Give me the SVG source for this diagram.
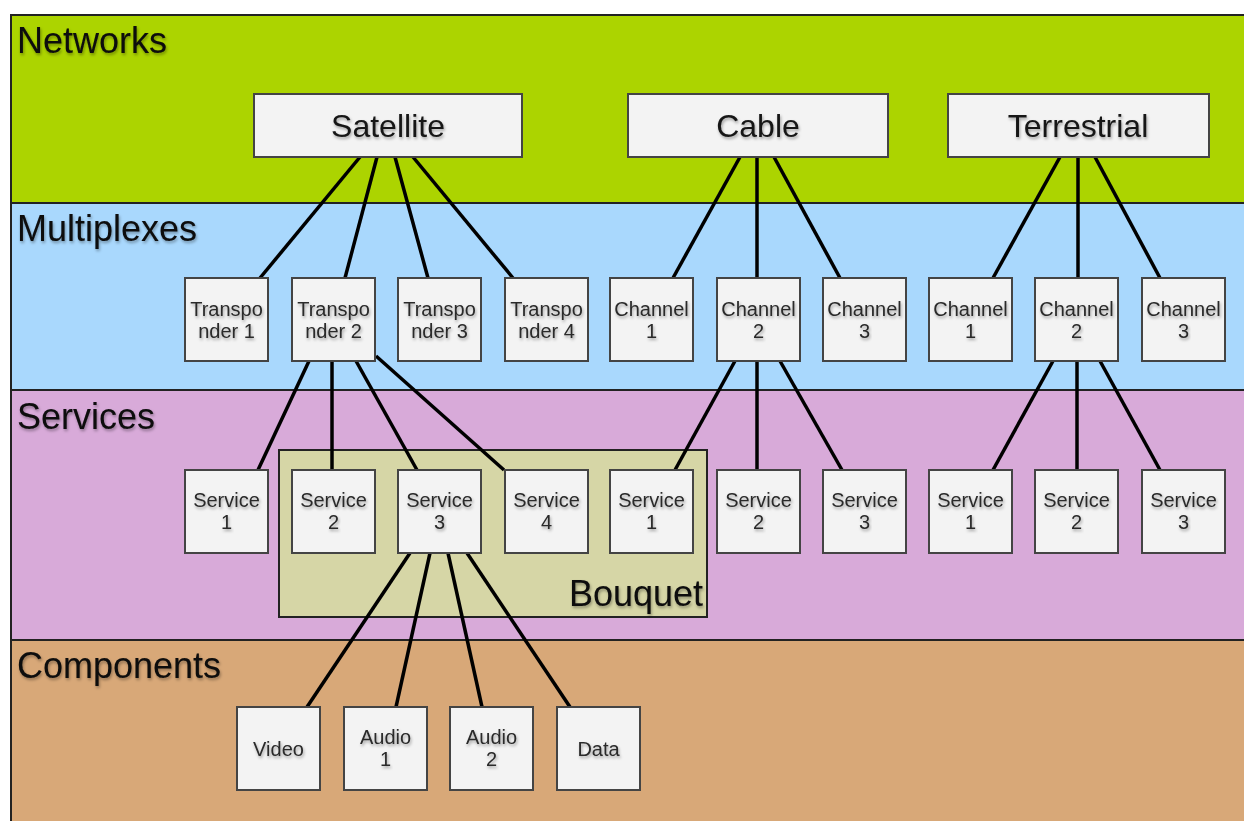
<svg xmlns="http://www.w3.org/2000/svg" width="1244" height="821" viewBox="0 0 1244 821">
  <defs>
    <filter id="ts" x="-10%" y="-30%" width="120%" height="160%">
      <feDropShadow dx="1" dy="2" stdDeviation="1.5" flood-color="#000" flood-opacity="0.35"/>
    </filter>
  </defs>
  <style>
    .band { stroke: #222; stroke-width: 2; }
    .bandlabel { font-family: "Liberation Sans", Arial, sans-serif; font-size: 36px; fill: #0a0a0a; filter: url(#ts); }
    .big rect, .small rect { fill: #f3f3f3; stroke: #444; stroke-width: 2; }
    .big text { font-family: "Liberation Sans", Arial, sans-serif; font-size: 32px; fill: #151515; text-anchor: middle; filter: url(#ts); }
    .small text { font-family: "Liberation Sans", Arial, sans-serif; font-size: 20px; fill: #2a2a2a; text-anchor: middle; filter: url(#ts); }
    .conn line { stroke: #000; stroke-width: 3.5; stroke-linecap: butt; }
  </style>
  <rect x="0" y="0" width="1244" height="821" fill="#ffffff"/>

  <!-- Bands -->
  <g id="bands">
    <rect class="band" x="11" y="15" width="1250" height="188" fill="#acd400"/>
    <rect class="band" x="11" y="203" width="1250" height="187" fill="#a9d8fd"/>
    <rect class="band" x="11" y="390" width="1250" height="250" fill="#d8aad9"/>
    <rect class="band" x="11" y="640" width="1250" height="200" fill="#d8a878"/>
    <text class="bandlabel" x="17" y="53">Networks</text>
    <text class="bandlabel" x="17" y="241">Multiplexes</text>
    <text class="bandlabel" x="17" y="429">Services</text>
    <text class="bandlabel" x="17" y="678">Components</text>
  </g>

  <g id="bouquet">
    <rect x="279" y="450" width="428" height="167" fill="#d6d6a6" stroke="#222" stroke-width="2"/>
    <text class="bandlabel" x="703" y="606" text-anchor="end">Bouquet</text>
  </g>

  <!-- Connectors -->
  <g id="connectors" class="conn">
    <line x1="360" y1="157" x2="260" y2="278"/>
    <line x1="377" y1="157" x2="345" y2="278"/>
    <line x1="395" y1="157" x2="428" y2="278"/>
    <line x1="413" y1="157" x2="513" y2="278"/>
    <line x1="740" y1="157" x2="673" y2="278"/>
    <line x1="757" y1="157" x2="757" y2="278"/>
    <line x1="774" y1="157" x2="840" y2="278"/>
    <line x1="1060" y1="157" x2="993" y2="278"/>
    <line x1="1078" y1="157" x2="1078" y2="278"/>
    <line x1="1095" y1="157" x2="1160" y2="278"/>
    <line x1="309" y1="361" x2="258" y2="470"/>
    <line x1="332" y1="361" x2="332" y2="470"/>
    <line x1="356" y1="361" x2="417" y2="470"/>
    <line x1="376" y1="356" x2="504" y2="470"/>
    <line x1="735" y1="361" x2="675" y2="470"/>
    <line x1="757" y1="361" x2="757" y2="470"/>
    <line x1="780" y1="361" x2="842" y2="470"/>
    <line x1="1053" y1="361" x2="993" y2="470"/>
    <line x1="1077" y1="361" x2="1077" y2="470"/>
    <line x1="1100" y1="361" x2="1160" y2="470"/>
    <line x1="410" y1="553" x2="307" y2="707"/>
    <line x1="430" y1="553" x2="396" y2="707"/>
    <line x1="448" y1="553" x2="482" y2="707"/>
    <line x1="467" y1="553" x2="570" y2="707"/>
  </g>

  <!-- Network nodes -->
  <g id="satellite" class="big"><rect x="254" y="94" width="268" height="63"/><text x="388" y="137">Satellite</text></g>
  <g id="cable" class="big"><rect x="628" y="94" width="260" height="63"/><text x="758" y="137">Cable</text></g>
  <g id="terrestrial" class="big"><rect x="948" y="94" width="261" height="63"/><text x="1078" y="137">Terrestrial</text></g>

  <!-- Multiplex nodes -->
  <g id="transponder1" class="small"><rect x="185" y="278" width="83" height="83"/><text x="226.5" y="316">Transpo</text><text x="226.5" y="338">nder 1</text></g>
  <g id="transponder2" class="small"><rect x="292" y="278" width="83" height="83"/><text x="333.5" y="316">Transpo</text><text x="333.5" y="338">nder 2</text></g>
  <g id="transponder3" class="small"><rect x="398" y="278" width="83" height="83"/><text x="439.5" y="316">Transpo</text><text x="439.5" y="338">nder 3</text></g>
  <g id="transponder4" class="small"><rect x="505" y="278" width="83" height="83"/><text x="546.5" y="316">Transpo</text><text x="546.5" y="338">nder 4</text></g>
  <g id="cable-channel1" class="small"><rect x="610" y="278" width="83" height="83"/><text x="651.5" y="316">Channel</text><text x="651.5" y="338">1</text></g>
  <g id="cable-channel2" class="small"><rect x="717" y="278" width="83" height="83"/><text x="758.5" y="316">Channel</text><text x="758.5" y="338">2</text></g>
  <g id="cable-channel3" class="small"><rect x="823" y="278" width="83" height="83"/><text x="864.5" y="316">Channel</text><text x="864.5" y="338">3</text></g>
  <g id="terr-channel1" class="small"><rect x="929" y="278" width="83" height="83"/><text x="970.5" y="316">Channel</text><text x="970.5" y="338">1</text></g>
  <g id="terr-channel2" class="small"><rect x="1035" y="278" width="83" height="83"/><text x="1076.5" y="316">Channel</text><text x="1076.5" y="338">2</text></g>
  <g id="terr-channel3" class="small"><rect x="1142" y="278" width="83" height="83"/><text x="1183.5" y="316">Channel</text><text x="1183.5" y="338">3</text></g>

  <!-- Service nodes -->
  <g id="sat-service1" class="small"><rect x="185" y="470" width="83" height="83"/><text x="226.5" y="507">Service</text><text x="226.5" y="529">1</text></g>
  <g id="sat-service2" class="small"><rect x="292" y="470" width="83" height="83"/><text x="333.5" y="507">Service</text><text x="333.5" y="529">2</text></g>
  <g id="sat-service3" class="small"><rect x="398" y="470" width="83" height="83"/><text x="439.5" y="507">Service</text><text x="439.5" y="529">3</text></g>
  <g id="sat-service4" class="small"><rect x="505" y="470" width="83" height="83"/><text x="546.5" y="507">Service</text><text x="546.5" y="529">4</text></g>
  <g id="cable-service1" class="small"><rect x="610" y="470" width="83" height="83"/><text x="651.5" y="507">Service</text><text x="651.5" y="529">1</text></g>
  <g id="cable-service2" class="small"><rect x="717" y="470" width="83" height="83"/><text x="758.5" y="507">Service</text><text x="758.5" y="529">2</text></g>
  <g id="cable-service3" class="small"><rect x="823" y="470" width="83" height="83"/><text x="864.5" y="507">Service</text><text x="864.5" y="529">3</text></g>
  <g id="terr-service1" class="small"><rect x="929" y="470" width="83" height="83"/><text x="970.5" y="507">Service</text><text x="970.5" y="529">1</text></g>
  <g id="terr-service2" class="small"><rect x="1035" y="470" width="83" height="83"/><text x="1076.5" y="507">Service</text><text x="1076.5" y="529">2</text></g>
  <g id="terr-service3" class="small"><rect x="1142" y="470" width="83" height="83"/><text x="1183.5" y="507">Service</text><text x="1183.5" y="529">3</text></g>

  <!-- Component nodes -->
  <g id="video" class="small"><rect x="237" y="707" width="83" height="83"/><text x="278.5" y="756">Video</text></g>
  <g id="audio1" class="small"><rect x="344" y="707" width="83" height="83"/><text x="385.5" y="744">Audio</text><text x="385.5" y="766">1</text></g>
  <g id="audio2" class="small"><rect x="450" y="707" width="83" height="83"/><text x="491.5" y="744">Audio</text><text x="491.5" y="766">2</text></g>
  <g id="data" class="small"><rect x="557" y="707" width="83" height="83"/><text x="598.5" y="756">Data</text></g>
</svg>
